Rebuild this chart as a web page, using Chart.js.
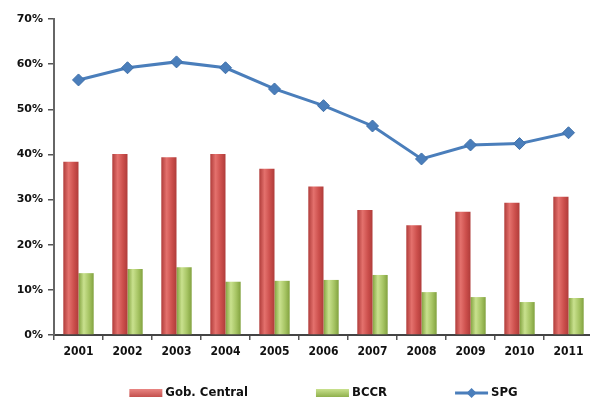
<!DOCTYPE html>
<html>
<head>
<meta charset="utf-8">
<script src="https://cdn.jsdelivr.net/npm/chart.js@4/dist/chart.umd.min.js"></script>
<style>
  html, body { margin: 0; padding: 0; background: #fff; overflow: hidden; }
  #wrap { position: relative; width: 600px; height: 400px; }
</style>
</head>
<body>
<div id="wrap"><canvas id="debtChart"></canvas></div>
<script>
const years = ['2001', '2002', '2003', '2004', '2005', '2006', '2007', '2008', '2009', '2010', '2011'];
const gobCentral = [38.4, 40.1, 39.4, 40.1, 36.8, 32.9, 27.7, 24.3, 27.3, 29.3, 30.6];
const bccr = [13.7, 14.6, 15.0, 11.8, 12.0, 12.2, 13.3, 9.5, 8.4, 7.3, 8.2];
const spg = [56.5, 59.2, 60.5, 59.2, 54.5, 50.8, 46.3, 39.0, 42.1, 42.4, 44.8];
const yTicks = [0, 10, 20, 30, 40, 50, 60, 70];

const CAT_PCT = 0.62;

// horizontal gradient so each bar reads like a cylinder
function cylinder(dark, light, mid, side) {
    return function (ctx) {
        const chart = ctx.chart;
        const xs = chart.scales.x;
        if (!chart.chartArea || !xs || ctx.type !== 'data') return mid;
        const c = xs.getPixelForValue(ctx.dataIndex);
        const w = xs.width / years.length * CAT_PCT / 2;
        const x0 = side < 0 ? c - w : c;
        const g = chart.ctx.createLinearGradient(x0, 0, x0 + w, 0);
        g.addColorStop(0, dark);
        g.addColorStop(0.35, light);
        g.addColorStop(0.7, mid);
        g.addColorStop(1, dark);
        return g;
    };
}

// legend under the plot: swatch / line marker + label, centred on the plot area
const bottomLegend = {
    id: 'bottomLegend',
    afterDraw(chart) {
        const c = chart.ctx;
        const area = chart.chartArea;
        const y = 393;
        const sw = 33, gap = 3, between = 68;
        c.save();
        c.font = 'bold 13px "DejaVu Sans Condensed", "DejaVu Sans", sans-serif';
        c.textBaseline = 'middle';
        const items = chart.data.datasets.map(ds => ({ ds, w: c.measureText(ds.label).width }));
        let total = 0;
        items.forEach((it, i) => { total += sw + gap + it.w + (i ? between : 0); });
        let x = (area.left + area.right) / 2 - total / 2;
        items.forEach(it => {
            const ds = it.ds;
            if (ds.type === 'line') {
                c.strokeStyle = ds.borderColor;
                c.lineWidth = 3;
                c.beginPath();
                c.moveTo(x, y);
                c.lineTo(x + sw, y);
                c.stroke();
                c.fillStyle = ds.pointBackgroundColor;
                const m = x + sw / 2, r = 5;
                c.beginPath();
                c.moveTo(m, y - r);
                c.lineTo(m + r, y);
                c.lineTo(m, y + r);
                c.lineTo(m - r, y);
                c.closePath();
                c.fill();
            } else {
                const g = c.createLinearGradient(0, y - 4, 0, y + 4);
                g.addColorStop(0, ds.legendLight);
                g.addColorStop(1, ds.legendDark);
                c.fillStyle = g;
                c.fillRect(x, y - 4, sw, 8);
            }
            c.fillStyle = '#111';
            c.fillText(ds.label, x + sw + gap, y);
            x += sw + gap + it.w + between;
        });
        c.restore();
    }
};

const ctx = document.getElementById('debtChart').getContext('2d');
const debtChart = new Chart(ctx, {
    data: {
        labels: years,
        datasets: [{
            type: 'bar',
            label: 'Gob. Central',
            data: gobCentral,
            backgroundColor: cylinder('#b03c3a', '#e4716d', '#cc4f4c', -1),
            legendLight: '#e98683',
            legendDark: '#c4504d',
            categoryPercentage: CAT_PCT,
            barPercentage: 1,
            order: 1
        }, {
            type: 'bar',
            label: 'BCCR',
            data: bccr,
            backgroundColor: cylinder('#82a23f', '#c9e18e', '#a6c463', 1),
            legendLight: '#c9e18e',
            legendDark: '#8fb04c',
            categoryPercentage: CAT_PCT,
            barPercentage: 1,
            order: 1
        }, {
            type: 'line',
            label: 'SPG',
            data: spg,
            borderColor: '#4a7ebb',
            borderWidth: 3,
            pointStyle: 'rectRot',
            pointRadius: 6,
            pointBackgroundColor: '#4a7ebb',
            pointBorderColor: '#3e6fa8',
            pointBorderWidth: 1,
            tension: 0,
            order: 0
        }]
    },
    options: {
        responsive: true,
        maintainAspectRatio: false,
        animation: false,
        layout: { padding: { top: 19, right: 2, bottom: 40, left: 0 } },
        plugins: {
            legend: { display: false },
            tooltip: { enabled: false }
        },
        scales: {
            x: {
                offset: true,
                afterFit(scale) { scale.height = 25; },
                grid: {
                    offset: true,
                    drawOnChartArea: false,
                    drawTicks: true,
                    tickLength: 5,
                    color: '#555',
                    lineWidth: 1.5
                },
                border: { display: true, color: '#444', width: 2 },
                ticks: {
                    color: '#111',
                    padding: 5,
                    maxRotation: 0,
                    font: { family: '"DejaVu Sans Condensed", "DejaVu Sans", sans-serif', size: 12, weight: 'bold' }
                }
            },
            y: {
                min: 0,
                max: 70,
                afterFit(scale) { scale.width = 54; },
                afterBuildTicks(scale) { scale.ticks = yTicks.map(v => ({ value: v })); },
                grid: {
                    drawOnChartArea: false,
                    drawTicks: true,
                    tickLength: 6,
                    color: '#555',
                    lineWidth: 1.5
                },
                border: { display: true, color: '#666', width: 2 },
                ticks: {
                    color: '#111',
                    padding: 5,
                    callback: v => v + '%',
                    font: { family: '"DejaVu Sans", sans-serif', size: 11, weight: 'bold' }
                }
            }
        }
    },
    plugins: [bottomLegend]
});
</script>
</body>
</html>
